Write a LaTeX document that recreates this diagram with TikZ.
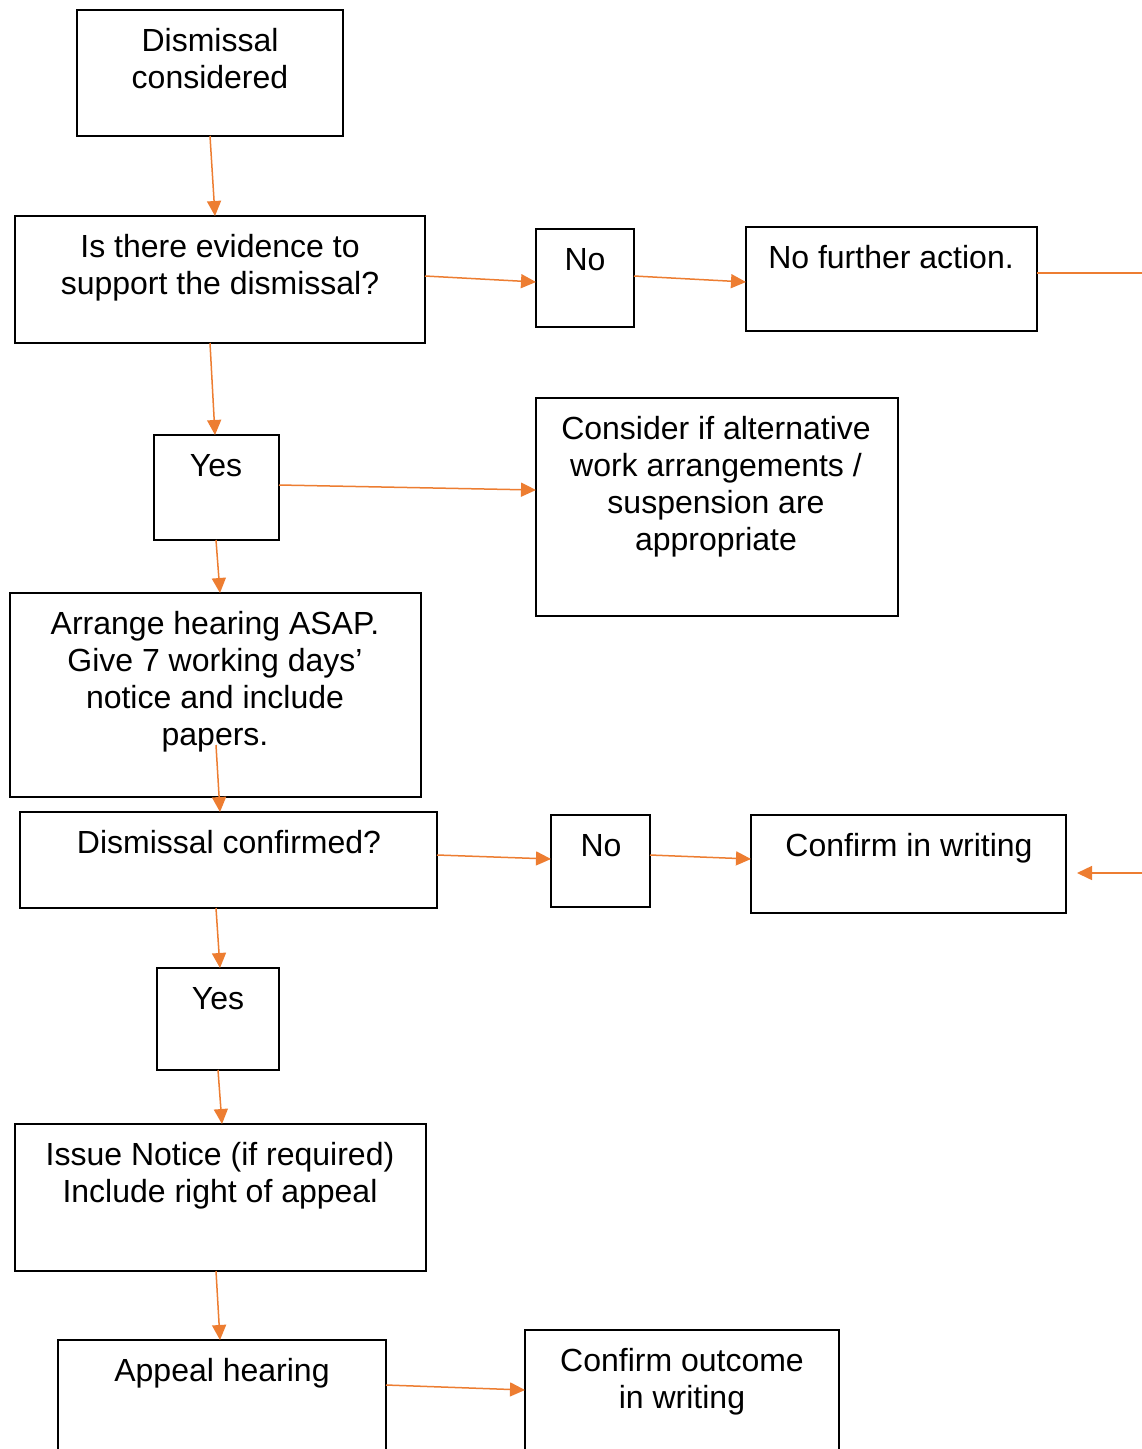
\documentclass[tikz,border=0pt]{standalone}
\usepackage{fontspec}
\setmainfont{Liberation Sans}
\usetikzlibrary{arrows.meta}
\definecolor{arrorange}{RGB}{237,125,49}
\begin{document}
\begin{tikzpicture}[x=1pt,y=1pt,
  box/.style={draw=black, line width=1.8pt, rectangle, inner sep=0pt, outer sep=0pt},
  lbl/.style={anchor=north, align=center, inner sep=0pt, font=\fontsize{32}{37}\selectfont},
  arr/.style={draw=arrorange, line width=1.5pt, -{Triangle[length=15pt,width=14pt]}},
  plainline/.style={draw=arrorange, line width=1.5pt}]
\useasboundingbox (0,0) rectangle (1142,-1449);
\clip (0,0) rectangle (1142,-1449);
\fill[white] (0,0) rectangle (1142,-1449);
% boxes
\node[box, minimum width=266pt, minimum height=126pt] (b1) at (210,-73) {};
\node[box, minimum width=410pt, minimum height=127pt] (b2) at (220,-279.5) {};
\node[box, minimum width=98pt, minimum height=98pt] (b3) at (585,-278) {};
\node[box, minimum width=291pt, minimum height=104pt] (b4) at (891.5,-279) {};
\node[box, minimum width=125pt, minimum height=105pt] (b5) at (216.5,-487.5) {};
\node[box, minimum width=362pt, minimum height=218pt] (b6) at (717,-507) {};
\node[box, minimum width=411pt, minimum height=204pt] (b7) at (215.5,-695) {};
\node[box, minimum width=417pt, minimum height=96pt] (b8) at (228.5,-860) {};
\node[box, minimum width=99pt, minimum height=92pt] (b9) at (600.5,-861) {};
\node[box, minimum width=315pt, minimum height=98pt] (b10) at (908.5,-864) {};
\node[box, minimum width=122pt, minimum height=102pt] (b11) at (218,-1019) {};
\node[box, minimum width=411pt, minimum height=147pt] (b12) at (220.5,-1197.5) {};
\node[box, minimum width=328pt, minimum height=130pt] (b13) at (222,-1405) {};
\node[box, minimum width=314pt, minimum height=140pt] (b14) at (682,-1400) {};
% labels
\node[lbl] (t1) at (210,-25) {\strut Dismissal\\considered};
\node[lbl] (t2) at (220,-231) {\strut Is there evidence to\\support the dismissal?};
\node[lbl] (t3) at (585,-244) {\strut No};
\node[lbl] (t4) at (891,-242) {\strut No further action.};
\node[lbl] (t5) at (216,-450) {\strut Yes};
\node[lbl] (t6) at (716,-413) {\strut Consider if alternative\\work arrangements /\\suspension are\\appropriate};
\node[lbl] (t7) at (215,-608) {\strut Arrange hearing ASAP.\\Give 7 working days'\\notice and include\\papers.};
\node[lbl] (t8) at (229,-827) {\strut Dismissal confirmed?};
\node[lbl] (t9) at (601,-830) {\strut No};
\node[lbl] (t10) at (909,-830) {\strut Confirm in writing};
\node[lbl] (t11) at (218,-983) {\strut Yes};
\node[lbl] (t12) at (220,-1139) {\strut Issue Notice (if required)\\Include right of appeal};
\node[lbl] (t13) at (222,-1355) {\strut Appeal hearing};
\node[lbl] (t14) at (682,-1345) {\strut Confirm outcome\\in writing};
% free ends
\coordinate (r1) at (1142,-273);
\coordinate (r2) at (1142,-873);
\coordinate (r2e) at (1077,-873);
% connectors
\draw[arr] (b1.south) -- ([xshift=-5pt]b2.north);
\draw[arr] ([yshift=3.5pt]b2.east) -- ([yshift=-4pt]b3.west);
\draw[arr] ([yshift=2pt]b3.east) -- ([yshift=-3pt]b4.west);
\draw[plainline] ([yshift=6pt]b4.east) -- (r1);
\draw[arr] ([xshift=-10pt]b2.south) -- ([xshift=-1.5pt]b5.north);
\draw[arr] ([yshift=2.5pt]b5.east) -- ([yshift=17pt]b6.west);
\draw[arr] ([xshift=-0.5pt]b5.south) -- ([xshift=4.5pt]b7.north);
\draw[arr] ([xshift=0.5pt,yshift=52pt]b7.south) -- ([xshift=-8.5pt]b8.north);
\draw[arr] ([yshift=5pt]b8.east) -- ([yshift=2pt]b9.west);
\draw[arr] ([yshift=6pt]b9.east) -- ([yshift=5pt]b10.west);
\draw[arr] (r2) -- (r2e);
\draw[arr] ([xshift=-12.5pt]b8.south) -- ([xshift=2pt]b11.north);
\draw[arr] (b11.south) -- ([xshift=1.5pt]b12.north);
\draw[arr] ([xshift=-4.5pt]b12.south) -- ([xshift=-2pt]b13.north);
\draw[arr] ([yshift=20pt]b13.east) -- ([yshift=10pt]b14.west);
\end{tikzpicture}
\end{document}
